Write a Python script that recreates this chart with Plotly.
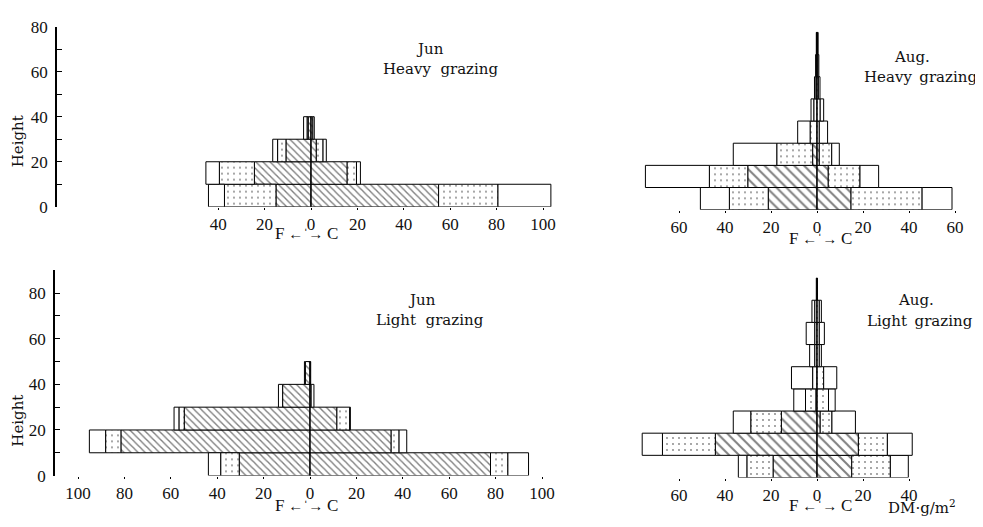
import plotly.graph_objects as go

# ---------------- data (DM g/m^2 per 10 cm layer; F = left, C = right) ----------------
# Jun, Heavy grazing
jh_layers = [0, 10, 20, 30]
jh_F_hatch = [15.1, 24.4, 10.8, 1.2]
jh_F_dots = [22.2, 15.1, 3.6, 0.5]
jh_F_blank = [6.9, 5.8, 2.1, 1.5]
jh_C_hatch = [55.0, 15.6, 2.3, 0.8]
jh_C_dots = [25.6, 4.0, 2.9, 0.6]
jh_C_blank = [22.8, 1.7, 1.4, 0.0]

# Aug., Heavy grazing
ah_layers = [0, 10, 20, 30, 40, 50, 60, 70]
ah_F_hatch = [21.2, 30.1, 1.9, 0, 0, 0, 0, 0]
ah_F_dots = [16.9, 16.7, 15.6, 3.0, 1.4, 0.5, 0.3, 0.1]
ah_F_blank = [12.6, 27.8, 18.9, 5.4, 1.2, 0.6, 0.3, 0.2]
ah_C_hatch = [14.8, 4.9, 1.0, 0, 0, 0, 0, 0]
ah_C_dots = [30.9, 13.8, 5.4, 1.0, 1.4, 0.6, 0.4, 0.2]
ah_C_blank = [13.0, 8.1, 3.3, 3.6, 1.5, 0.7, 0.4, 0.3]

# Jun, Light grazing
jl_layers = [0, 10, 20, 30, 40]
jl_F_hatch = [30.5, 81.5, 54.2, 11.8, 2.0]
jl_F_dots = [8.0, 6.6, 2.3, 0, 0.4]
jl_F_blank = [5.3, 7.0, 2.1, 1.8, 0]
jl_C_hatch = [77.8, 35.0, 11.6, 0.5, 0.3]
jl_C_dots = [7.5, 3.4, 5.5, 0, 0]
jl_C_blank = [8.9, 3.3, 0.3, 1.2, 0]

# Aug., Light grazing
al_layers = [0, 10, 20, 30, 40, 50, 60, 70, 80]
al_F_hatch = [19.1, 44.2, 15.5, 0.5, 0, 0, 0, 0, 0]
al_F_dots = [11.4, 23.0, 13.3, 4.5, 1.9, 1.0, 1.0, 1.0, 0.3]
al_F_blank = [3.7, 8.8, 7.6, 5.1, 9.2, 2.2, 3.7, 1.2, 0]
al_C_hatch = [15.1, 18.0, 1.4, 0, 0, 0, 0, 0, 0]
al_C_dots = [16.8, 12.6, 5.1, 5.0, 2.9, 1.0, 1.0, 1.0, 0.2]
al_C_blank = [7.8, 10.8, 10.2, 2.9, 5.7, 0.9, 2.2, 0.9, 0]

# tick labels
jh_xticks = [-40, -20, 0, 20, 40, 60, 80, 100]
ah_xticks = [-60, -40, -20, 0, 20, 40, 60]
jl_xticks = [-100, -80, -60, -40, -20, 0, 20, 40, 60, 80, 100]
al_xticks = [-60, -40, -20, 0, 20, 40]

OFF = 8  # page body margin
W, H = 983 - OFF, 527 - OFF
SERIF = "Liberation Serif"
TXT = "DejaVu Serif"

fig = go.Figure()

styles = {
    "hatch": dict(shape="\\", size=5, solidity=0.28),
    "dots": dict(shape=".", size=6, solidity=0.07),
    "blank": dict(shape="", size=6, solidity=0.1),
}


def nz(vals, sign):
    return [sign * v if v else None for v in vals]


def add_panel(xa, ya, layers, Fh, Fd, Fb, Ch, Cd, Cb, hatch_size=5):
    ymid = [l + 5 for l in layers]
    comps = [(Fh, -1, "hatch"), (Fd, -1, "dots"), (Fb, -1, "blank"),
             (Ch, 1, "hatch"), (Cd, 1, "dots"), (Cb, 1, "blank")]
    for vals, sign, kind in comps:
        pat = dict(styles[kind])
        if kind == "hatch":
            pat["size"] = hatch_size
        fig.add_trace(go.Bar(
            x=nz(vals, sign), y=ymid, orientation="h", width=10,
            xaxis=xa, yaxis=ya, showlegend=False, hoverinfo="skip",
            marker=dict(color="white", line=dict(color="black", width=1),
                        pattern=dict(fgcolor="black", bgcolor="white", **pat)),
        ))
    top = layers[-1] + 10
    fig.add_trace(go.Scatter(x=[0, 0], y=[0, top], mode="lines", xaxis=xa, yaxis=ya,
                             line=dict(color="black", width=1), showlegend=False,
                             hoverinfo="skip"))


add_panel("x", "y", jh_layers, jh_F_hatch, jh_F_dots, jh_F_blank, jh_C_hatch, jh_C_dots, jh_C_blank, 5)
add_panel("x2", "y2", ah_layers, ah_F_hatch, ah_F_dots, ah_F_blank, ah_C_hatch, ah_C_dots, ah_C_blank, 7)
add_panel("x3", "y3", jl_layers, jl_F_hatch, jl_F_dots, jl_F_blank, jl_C_hatch, jl_C_dots, jl_C_blank, 5)
add_panel("x4", "y4", al_layers, al_F_hatch, al_F_dots, al_F_blank, al_C_hatch, al_C_dots, al_C_blank, 7)


def px_x(p):
    return (p - OFF) / W


def px_y(p):
    return 1 - (p - OFF) / H


def xaxis(left, right, center, k, ticks):
    return dict(domain=[px_x(left), px_x(right)],
                range=[-(center - left) / k, (right - center) / k],
                tickvals=ticks, ticktext=[str(abs(t)) for t in ticks],
                showline=False, zeroline=False, showgrid=False,
                ticks="outside", ticklen=2, tickcolor="black", tickwidth=1,
                tickfont=dict(family=SERIF, size=17, color="#111"), fixedrange=True)


def yaxis_vis(top_px, bottom_px, ymax, anchor, top_tick):
    vals = list(range(0, top_tick + 1, 10))
    return dict(domain=[px_y(bottom_px), px_y(top_px)], range=[0, ymax], anchor=anchor,
                tickvals=vals, ticktext=[str(v) if v % 20 == 0 else "" for v in vals],
                showline=True, linecolor="black", linewidth=1.5,
                ticks="inside", ticklen=5, tickcolor="black", tickwidth=1.2,
                zeroline=False, showgrid=False, ticklabelstandoff=4,
                tickfont=dict(family=SERIF, size=17, color="#111"), fixedrange=True)


def yaxis_hidden(top_px, bottom_px, ymax, anchor):
    return dict(domain=[px_y(bottom_px), px_y(top_px)], range=[0, ymax], anchor=anchor,
                visible=False, fixedrange=True)


fig.update_layout(
    width=W, height=H, margin=dict(l=0, r=0, t=0, b=0),
    paper_bgcolor="white", plot_bgcolor="white", barmode="relative", showlegend=False,
    xaxis=dict(xaxis(57, 565, 311, 2.32, jh_xticks), anchor="y"),
    yaxis=yaxis_vis(18, 205, 80, "x", 80),
    xaxis2=dict(xaxis(640, 983, 817, 2.3, ah_xticks), anchor="y2"),
    yaxis2=yaxis_hidden(208 - 85 * 2.3, 208, 85, "x2"),
    xaxis3=dict(xaxis(55, 565, 310, 2.32, jl_xticks), anchor="y3"),
    yaxis3=yaxis_vis(271, 484, 90, "x3", 90),
    xaxis4=dict(xaxis(640, 983, 817, 2.3, al_xticks), anchor="y4"),
    yaxis4=yaxis_hidden(486 - 95 * 2.3, 486, 95, "x4"),
)

ann = []


def text(x, y, s, size=15, family=TXT, angle=0):
    ann.append(dict(x=px_x(x), y=px_y(y), xref="paper", yref="paper", text=s,
                    showarrow=False, xanchor="center", yanchor="middle", textangle=angle,
                    font=dict(family=family, size=size, color="#111")))


text(430, 41, "Jun")
text(440, 62, "Heavy  grazing")
text(912, 50, "Aug.")
text(920, 70, "Heavy\u2002grazing")
text(422, 302, "Jun")
text(430, 323, "Light  grazing")
text(916, 302, "Aug.")
text(920, 324, "Light\u2002grazing")
text(18, 137, "Height", angle=-90)
text(18, 427, "Height", angle=-90)
arrow = "F<span style='font-size:15px'> ←ˈ→ </span>C"
text(306, 233, arrow, size=17, family=SERIF)
text(820, 238, arrow, size=17, family=SERIF)
text(306, 515, arrow, size=17, family=SERIF)
text(820, 515, arrow, size=17, family=SERIF)
text(922, 517, "DM·g/m<sup>2</sup>", size=15)

fig.update_layout(annotations=ann)
fig.write_html("out.html")
